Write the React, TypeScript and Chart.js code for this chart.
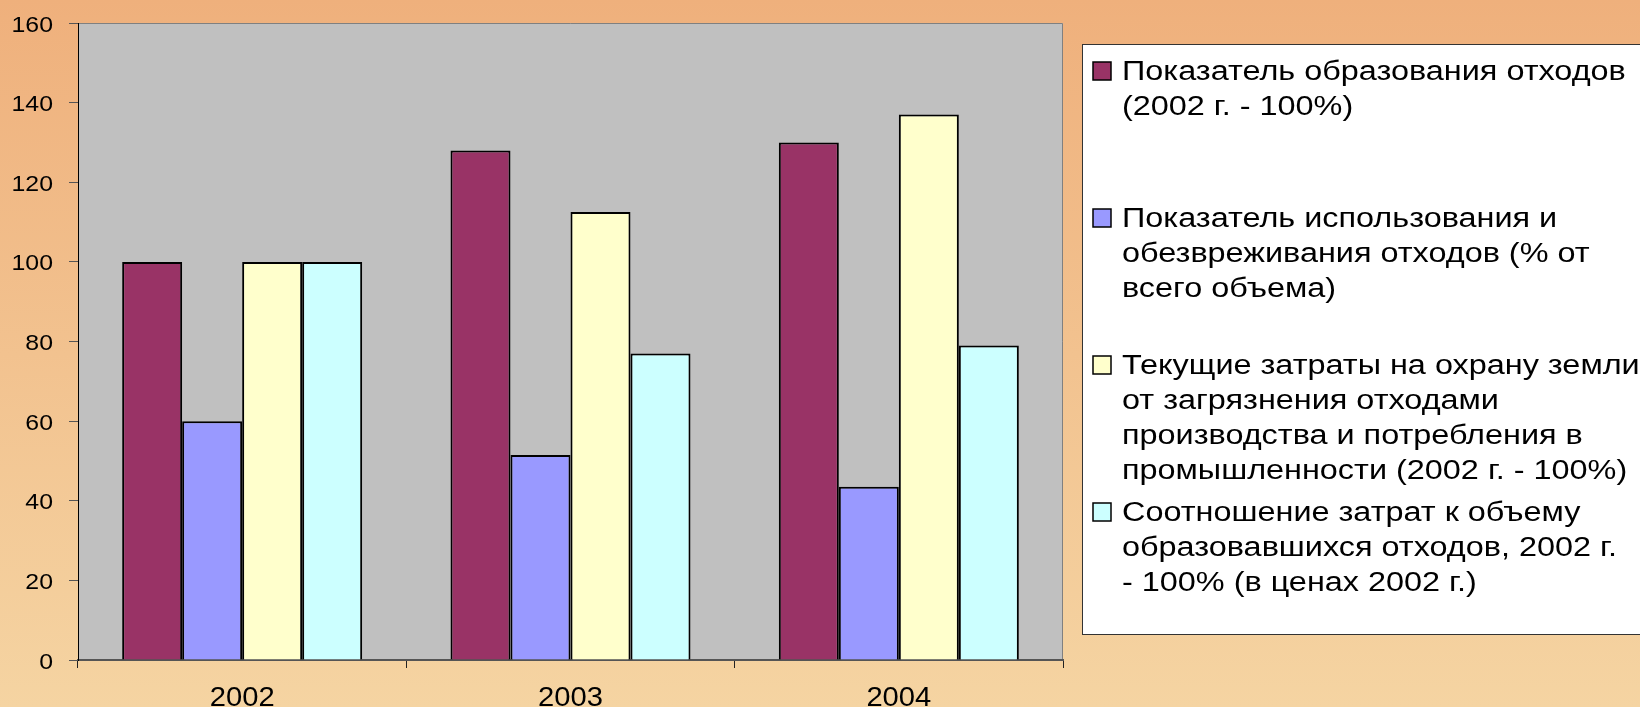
import React, { useEffect, useRef } from "react";
import { Chart, registerables } from "chart.js";

Chart.register(...registerables);

const categories = ["2002", "2003", "2004"];

const seriesNames: string[][] = [
  ["Показатель образования отходов", "(2002 г. - 100%)"],
  ["Показатель использования и", "обезвреживания отходов (% от", "всего объема)"],
  [
    "Текущие затраты на охрану земли",
    "от загрязнения отходами",
    "производства и потребления в",
    "промышленности (2002 г. - 100%)",
  ],
  ["Соотношение затрат к объему", "образовавшихся отходов, 2002 г.", "- 100% (в ценах 2002 г.)"],
];

const wasteFormation = [100, 128, 130];
const wasteUtilization = [60, 51.5, 43.5];
const landProtectionCosts = [100, 112.5, 137];
const costToWasteRatio = [100, 77, 79];

const seriesColors = ["#993366", "#9999FF", "#FFFFCC", "#CCFFFF"];

const yMin = 0;
const yMax = 160;
const yStep = 20;

const FONT = "'Liberation Sans', Arial, sans-serif";
const LEGEND_STRETCH = 1.2;
const Y_STRETCH = 1.13;
const X_STRETCH = 1.08;

const backgroundPlugin = {
  id: "bgPlugin",
  beforeDraw(chart: any) {
    const { ctx, width, height, chartArea } = chart;
    ctx.save();
    const g = ctx.createLinearGradient(0, 0, 0, height);
    g.addColorStop(0, "#EFB07C");
    g.addColorStop(1, "#F5D4A2");
    ctx.fillStyle = g;
    ctx.fillRect(0, 0, width, height);
    ctx.fillStyle = "#C0C0C0";
    ctx.fillRect(chartArea.left, chartArea.top, chartArea.right - chartArea.left, chartArea.bottom - chartArea.top);
    ctx.strokeStyle = "#808080";
    ctx.lineWidth = 1;
    ctx.beginPath();
    ctx.moveTo(chartArea.left, chartArea.top + 0.5);
    ctx.lineTo(chartArea.right - 0.5, chartArea.top + 0.5);
    ctx.lineTo(chartArea.right - 0.5, chartArea.bottom);
    ctx.stroke();
    ctx.restore();
  },
};

const axisLabelPlugin = {
  id: "axisLabels",
  afterDraw(chart: any) {
    const { ctx } = chart;
    const xs = chart.scales.x;
    const ys = chart.scales.y;
    ctx.save();
    ctx.fillStyle = "#000";
    ctx.textBaseline = "alphabetic";
    ctx.save();
    ctx.font = `22px ${FONT}`;
    ctx.scale(Y_STRETCH, 1);
    ctx.textAlign = "right";
    ys.ticks.forEach((t: any, i: number) => {
      const py = ys.getPixelForTick(i);
      ctx.fillText(String(t.value), (ys.right - 25) / Y_STRETCH, py + 8.5);
    });
    ctx.restore();
    ctx.save();
    ctx.font = `27px ${FONT}`;
    ctx.textAlign = "center";
    ctx.scale(X_STRETCH, 1);
    xs.ticks.forEach((t: any, i: number) => {
      const px = xs.getPixelForTick(i);
      ctx.fillText(String(chart.data.labels[i]), px / X_STRETCH, xs.top + 46);
    });
    ctx.restore();
    ctx.restore();
  },
};

const legendPlugin = {
  id: "customLegend",
  afterDraw(chart: any) {
    const { ctx } = chart;
    ctx.save();
    const boxX = 1082.5;
    const boxY = 44.5;
    ctx.fillStyle = "#FFFFFF";
    ctx.fillRect(boxX, boxY, 620, 590);
    ctx.strokeStyle = "#333333";
    ctx.lineWidth = 1;
    ctx.strokeRect(boxX, boxY, 620, 590);
    const firstBaseline = 80;
    const itemSpacing = 147;
    const lineSpacing = 35;
    chart.data.datasets.forEach((ds: any, i: number) => {
      const base = firstBaseline + i * itemSpacing;
      ctx.fillStyle = ds.backgroundColor;
      ctx.fillRect(1093, base - 18, 18, 18);
      ctx.strokeStyle = "#000";
      ctx.lineWidth = 1.5;
      ctx.strokeRect(1093, base - 18, 18, 18);
      ctx.save();
      ctx.font = `27px ${FONT}`;
      ctx.textBaseline = "alphabetic";
      ctx.textAlign = "left";
      ctx.fillStyle = "#000";
      ctx.scale(LEGEND_STRETCH, 1);
      (ds.labelLines as string[]).forEach((line, j) => {
        ctx.fillText(line, 1122 / LEGEND_STRETCH, base + j * lineSpacing);
      });
      ctx.restore();
    });
    ctx.restore();
  },
};

export default function App() {
  const canvasRef = useRef<HTMLCanvasElement | null>(null);

  useEffect(() => {
    document.body.style.margin = "0";
    const canvas = canvasRef.current;
    if (!canvas) return;
    const seriesValues = [wasteFormation, wasteUtilization, landProtectionCosts, costToWasteRatio];
    const chart = new Chart(canvas, {
      type: "bar",
      data: {
        labels: categories,
        datasets: seriesValues.map((vals, i) => ({
          label: seriesNames[i].join(" "),
          labelLines: seriesNames[i],
          data: vals,
          backgroundColor: seriesColors[i],
          borderColor: "#000000",
          borderWidth: 2,
          categoryPercentage: 0.731,
          barPercentage: 1,
        })) as any,
      },
      options: {
        responsive: false,
        animation: false,
        devicePixelRatio: 1,
        layout: { padding: { top: 23, right: 577, left: 0, bottom: 0 } },
        plugins: {
          legend: { display: false },
          tooltip: { enabled: false },
        },
        scales: {
          x: {
            grid: {
              offset: true,
              drawOnChartArea: false,
              drawTicks: true,
              tickLength: 8,
              tickColor: "#222222",
              tickWidth: 1,
            },
            border: { display: true, color: "#555555", width: 2 },
            ticks: { display: false },
            afterFit: (scale: any) => {
              scale.height = 47;
            },
          },
          y: {
            min: yMin,
            max: yMax,
            ticks: { stepSize: yStep, display: false },
            grid: {
              drawOnChartArea: false,
              drawTicks: true,
              tickLength: 9,
              tickColor: "#555555",
              tickWidth: 1,
            },
            border: { display: true, color: "#000000", width: 1 },
            afterFit: (scale: any) => {
              scale.width = 78;
            },
          },
        },
      },
      plugins: [backgroundPlugin, axisLabelPlugin, legendPlugin],
    });
    return () => chart.destroy();
  }, []);

  return (
    <div style={{ width: 1640, height: 707, overflow: "hidden" }}>
      <canvas ref={canvasRef} width={1640} height={707} style={{ display: "block" }} />
    </div>
  );
}
